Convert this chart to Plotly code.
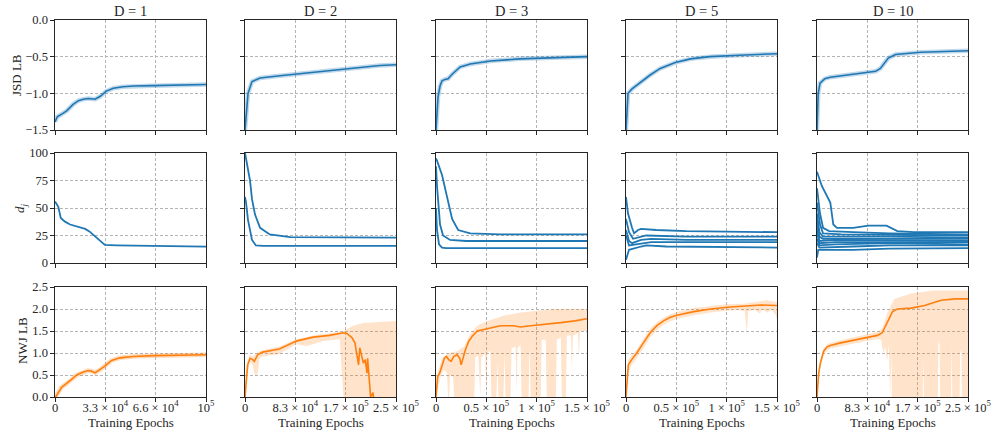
import numpy as np
import plotly.graph_objects as go

# ---------------------------------------------------------------------------
# Data (epochs are given in thousands)
# ---------------------------------------------------------------------------
dims = ["1", "2", "3", "5", "10"]
epoch_max_k = [100, 250, 150, 150, 250]

xtick_vals_k = [
    [0, 100 / 3, 200 / 3, 100],
    [0, 250 / 3, 500 / 3, 250],
    [0, 50, 100, 150],
    [0, 50, 100, 150],
    [0, 250 / 3, 500 / 3, 250],
]
xtick_text = [
    ["0", "3.3 × 10<sup>4</sup>", "6.6 × 10<sup>4</sup>", "10<sup>5</sup>"],
    ["0", "8.3 × 10<sup>4</sup>", "1.7 × 10<sup>5</sup>", "2.5 × 10<sup>5</sup>"],
    ["0", "0.5 × 10<sup>5</sup>", "1 × 10<sup>5</sup>", "1.5 × 10<sup>5</sup>"],
    ["0", "0.5 × 10<sup>5</sup>", "1 × 10<sup>5</sup>", "1.5 × 10<sup>5</sup>"],
    ["0", "8.3 × 10<sup>4</sup>", "1.7 × 10<sup>5</sup>", "2.5 × 10<sup>5</sup>"],
]

jsd_yticks = [-1.5, -1.0, -0.5, 0.0]
jsd_yticktext = ["−1.5", "−1.0", "−0.5", "0.0"]
dj_yticks = [0, 25, 50, 75, 100]
nwj_yticks = [0.0, 0.5, 1.0, 1.5, 2.0, 2.5]

# JSD lower bound
jsd_d1_k = [0, 1.5, 5.5, 7.7, 12, 15.5, 18.8, 22, 26.5, 30, 34, 38.6, 45, 52, 65, 80, 100]
jsd_d1 = [-1.39, -1.32, -1.27, -1.24, -1.15, -1.10, -1.08, -1.07, -1.08, -1.04, -0.97,
          -0.93, -0.91, -0.90, -0.895, -0.89, -0.88]
jsd_d2_k = [0, 1.7, 5, 11.6, 25, 58, 91, 124, 157, 190, 223, 250]
jsd_d2 = [-1.5, -1.3, -1.0, -0.84, -0.79, -0.76, -0.73, -0.70, -0.67, -0.64, -0.62, -0.61]
jsd_d3_k = [0, 2, 4, 6, 9, 12, 16, 19, 24, 34, 54, 83, 113, 150]
jsd_d3 = [-1.5, -1.05, -0.9, -0.83, -0.81, -0.80, -0.74, -0.70, -0.64, -0.60, -0.56,
          -0.53, -0.52, -0.50]
jsd_d5_k = [0, 1, 2, 6, 14, 24, 34, 49, 64, 83, 113, 150]
jsd_d5 = [-1.5, -1.1, -1.0, -0.94, -0.85, -0.75, -0.66, -0.58, -0.53, -0.50, -0.48, -0.46]
jsd_d10_k = [0, 2, 5, 13, 22, 50, 72, 97, 105, 112, 118, 130, 172, 250]
jsd_d10 = [-1.5, -1.0, -0.86, -0.80, -0.78, -0.75, -0.73, -0.70, -0.66, -0.58, -0.52,
           -0.47, -0.44, -0.42]

# Per-dimension sizes d_j
dj_d1_k = [0, 0.5, 2.2, 3.8, 6.6, 10, 14.4, 20, 23, 26.5, 30, 33, 41, 63, 100]
dj_d1 = [56, 55, 51, 41, 37.6, 35, 33, 31, 28.5, 24, 19.5, 16.4, 16, 15.5, 14.8]

dj_d2_a_k = [0, 1.7, 5, 8.3, 11.6, 16.6, 25, 41, 75, 150, 250]
dj_d2_a = [100, 95, 85, 75, 58, 44, 32, 26, 23.5, 23, 23]
dj_d2_b_k = [0, 1.7, 5, 11.6, 18, 30, 100, 250]
dj_d2_b = [60, 55, 39, 21, 16, 15.5, 15.5, 15.5]

dj_d3_a_k = [0, 1, 6, 11, 16, 22, 34, 64, 150]
dj_d3_a = [95, 93, 80, 60, 40, 30, 27, 26, 26]
dj_d3_b_k = [0, 1, 4, 7, 14, 30, 150]
dj_d3_b = [88, 70, 35, 25, 21, 20, 20]
dj_d3_c_k = [0, 1, 3, 6, 10, 30, 150]
dj_d3_c = [50, 30, 17, 14, 13.5, 13.5, 13.5]

dj_d5_1_k = [0, 2, 6, 8, 12, 15, 30, 60, 150]
dj_d5_1 = [60, 45, 32, 27, 30, 31, 30, 29, 28]
dj_d5_2_k = [0, 3, 7, 15, 20, 60, 150]
dj_d5_2 = [40, 28, 22, 24, 25, 24, 24]
dj_d5_3_k = [0, 3, 6, 15, 25, 60, 150]
dj_d5_3 = [30, 20, 18, 21, 22, 21, 21]
dj_d5_4_k = [0, 3, 10, 25, 150]
dj_d5_4 = [25, 16, 17, 19, 19]
dj_d5_5_k = [0, 3, 15, 20, 40, 150]
dj_d5_5 = [3, 12, 15, 16, 15, 14]

dj_d10_1_k = [0, 8, 22, 27, 33, 60, 85, 115, 133, 160, 250]
dj_d10_1 = [83, 70, 55, 35, 32, 32, 34, 34, 29, 28, 28]
dj_d10_2_k = [0, 5, 10, 20, 60, 120, 250]
dj_d10_2 = [68, 45, 32, 29, 28, 27, 26]
dj_d10_3_k = [0, 5, 10, 40, 250]
dj_d10_3 = [55, 35, 27, 26, 25]
dj_d10_4_k = [0, 4, 10, 120, 250]
dj_d10_4 = [45, 28, 24, 24, 23]
dj_d10_5_k = [0, 4, 10, 250]
dj_d10_5 = [38, 24, 22, 22]
dj_d10_6_k = [0, 4, 30, 250]
dj_d10_6 = [32, 20, 21, 20]
dj_d10_7_k = [0, 4, 30, 250]
dj_d10_7 = [28, 18, 19, 19]
dj_d10_8_k = [0, 4, 30, 120, 250]
dj_d10_8 = [22, 16, 17, 18, 17]
dj_d10_9_k = [0, 4, 60, 120, 250]
dj_d10_9 = [18, 14, 15, 16, 16]
dj_d10_10_k = [0, 2, 60, 120, 250]
dj_d10_10 = [5, 12, 12, 13, 13.5]

# NWJ lower bound: mean curve plus the spread band (upper / lower edge)
nwj_d1_k = [0, 0.4, 4.4, 7.7, 11, 14.4, 18.8, 22, 24, 26.5, 29.8, 33, 37.5, 43, 51.7, 65, 100]
nwj_d1 = [0.0, 0.0, 0.22, 0.30, 0.40, 0.50, 0.57, 0.60, 0.59, 0.55, 0.62, 0.70, 0.83,
          0.89, 0.92, 0.94, 0.96]

nwj_d2_k = [0, 4.4, 8.3, 12.7, 15.5, 21, 29, 57, 85, 113, 140, 163, 168, 177, 182, 185,
            188, 190, 193, 196, 199, 202, 203, 206, 208, 212, 215]
nwj_d2 = [0.0, 0.73, 0.88, 0.85, 0.81, 0.96, 1.02, 1.09, 1.27, 1.36, 1.40, 1.46, 1.45,
          1.35, 1.23, 0.92, 0.73, 1.12, 0.92, 0.77, 0.85, 0.54, 0.88, 0.42, 0.0, 0.10, -0.3]
nwj_d2_up_k = [0, 1, 4, 8, 12.7, 21, 29, 57, 85, 113, 140, 163, 168, 179, 196, 224, 250]
nwj_d2_up = [0.05, 0.5, 0.8, 0.96, 0.92, 1.02, 1.06, 1.15, 1.32, 1.40, 1.45, 1.50, 1.54,
             1.62, 1.68, 1.71, 1.73]
nwj_d2_lo_k = [0, 4, 8, 12.7, 17, 21, 24, 29, 57, 85, 102, 130, 157, 160, 163, 250]
nwj_d2_lo = [0, 0.54, 0.8, 0.73, 0.46, 0.54, 0.88, 0.92, 0.98, 1.2, 1.16, 1.27, 1.31,
             0.6, 0, 0]

nwj_d3_k = [0, 1.6, 3.6, 6, 8.3, 10.3, 12.6, 15, 17.6, 21, 23.6, 25, 27, 29.3, 32.6, 36,
            41, 51, 64, 77, 84, 94, 111, 124, 138, 150]
nwj_d3 = [0, 0.46, 0.54, 0.73, 0.88, 0.92, 0.85, 0.81, 0.92, 0.96, 0.88, 0.73, 0.92,
          1.08, 1.27, 1.38, 1.50, 1.55, 1.62, 1.62, 1.59, 1.62, 1.65, 1.69, 1.73, 1.78]
nwj_d3_up_k = [0, 1.6, 6, 12.6, 21, 28, 32.6, 41, 51, 68, 84, 100, 117, 150]
nwj_d3_up = [0.05, 0.54, 0.88, 1.0, 1.04, 1.15, 1.38, 1.62, 1.73, 1.85, 1.92, 1.96, 2.0, 2.0]
nwj_d3_lo_k = [0, 2, 5, 8, 11, 12, 13, 14, 17, 18, 38, 39, 42, 44, 45, 49, 50, 51, 54, 55,
               60, 61, 62, 67, 68, 69, 74, 75, 79, 80, 81, 84, 85, 92, 93, 94, 104, 105,
               109, 110, 119, 120, 124, 125, 129, 130, 134, 135, 136, 141, 142, 143, 150]
nwj_d3_lo = [0, 0.2, 0.5, 0.62, 0.55, 0.0, 0.0, 0.5, 0.45, 0.0, 0.0, 0.9, 0.95, 0.0, 0.9,
             1.0, 0.0, 1.0, 1.05, 0.0, 0.0, 0.8, 0.0, 0.0, 1.0, 0.0, 0.0, 1.1, 1.15, 0.1,
             1.1, 1.2, 0.0, 0.0, 1.2, 0.0, 0.0, 1.3, 1.3, 0.0, 0.0, 1.3, 1.35, 0.0, 0.0,
             1.4, 1.4, 0.6, 1.4, 1.45, 0.9, 1.5, 1.5]

nwj_d5_k = [0, 1.3, 2.3, 5.7, 10.7, 17.3, 24, 30.7, 37.3, 44, 50.7, 67.3, 84, 100.7,
            117.3, 134, 150]
nwj_d5 = [0, 0.54, 0.73, 0.85, 1.0, 1.23, 1.46, 1.62, 1.73, 1.81, 1.86, 1.94, 2.0, 2.04,
          2.06, 2.09, 2.08]
nwj_d5_up_k = [0, 1.3, 2.3, 5.7, 10.7, 17.3, 24, 30.7, 37.3, 44, 50.7, 67.3, 84, 100, 117,
               134, 140, 150]
nwj_d5_up = [0.05, 0.7, 0.85, 0.95, 1.08, 1.32, 1.55, 1.7, 1.8, 1.88, 1.93, 2.02, 2.07,
             2.11, 2.12, 2.17, 2.2, 2.16]
nwj_d5_lo_k = [0, 1.3, 2.3, 5.7, 10.7, 17.3, 24, 30.7, 37.3, 44, 50.7, 67.3, 84, 100, 112,
               118, 120, 121.5, 128, 133, 135, 140, 145, 149, 150]
nwj_d5_lo = [0, 0.3, 0.55, 0.72, 0.88, 1.1, 1.35, 1.52, 1.64, 1.72, 1.78, 1.86, 1.92,
             1.96, 1.98, 1.95, 1.45, 1.95, 1.98, 1.9, 2.0, 1.92, 1.98, 1.85, 1.75]

nwj_d10_k = [0, 2.8, 5.6, 11, 16.7, 22, 38.9, 55.6, 83, 100, 108, 116.7, 125, 133, 155.6,
             178, 205.6, 228, 250]
nwj_d10 = [0, 0.54, 0.77, 1.04, 1.14, 1.17, 1.23, 1.28, 1.35, 1.40, 1.46, 1.69, 1.94,
           2.0, 2.02, 2.08, 2.2, 2.23, 2.23]
nwj_d10_up_k = [0, 2.8, 5.6, 11, 16.7, 22, 38.9, 55.6, 83, 100, 108, 116.7, 128, 155.6,
                194, 250]
nwj_d10_up = [0.05, 0.65, 0.85, 1.1, 1.2, 1.23, 1.29, 1.34, 1.42, 1.48, 1.56, 1.92, 2.23,
              2.35, 2.42, 2.42]
nwj_d10_lo_k = [0, 2.8, 5.6, 11, 16.7, 22, 38.9, 55.6, 83, 100, 106, 110, 113, 116, 119,
                121, 122, 123, 124, 175, 176, 177, 200, 201, 203, 204, 222, 223, 224, 236,
                237, 239, 240, 250]
nwj_d10_lo = [0, 0.4, 0.68, 0.96, 1.06, 1.1, 1.16, 1.2, 1.28, 1.32, 1.3, 1.0, 1.15, 0.8,
              1.2, 0.0, 0.0, 1.0, 0.0, 0.0, 0.9, 0.0, 0.0, 1.3, 1.2, 0.0, 0.0, 1.2, 0.0,
              0.0, 1.0, 1.1, 0.0, 0.0]

jsd_series = [(jsd_d1_k, jsd_d1), (jsd_d2_k, jsd_d2), (jsd_d3_k, jsd_d3),
              (jsd_d5_k, jsd_d5), (jsd_d10_k, jsd_d10)]
dj_series = [
    [(dj_d1_k, dj_d1)],
    [(dj_d2_a_k, dj_d2_a), (dj_d2_b_k, dj_d2_b)],
    [(dj_d3_a_k, dj_d3_a), (dj_d3_b_k, dj_d3_b), (dj_d3_c_k, dj_d3_c)],
    [(dj_d5_1_k, dj_d5_1), (dj_d5_2_k, dj_d5_2), (dj_d5_3_k, dj_d5_3),
     (dj_d5_4_k, dj_d5_4), (dj_d5_5_k, dj_d5_5)],
    [(dj_d10_1_k, dj_d10_1), (dj_d10_2_k, dj_d10_2), (dj_d10_3_k, dj_d10_3),
     (dj_d10_4_k, dj_d10_4), (dj_d10_5_k, dj_d10_5), (dj_d10_6_k, dj_d10_6),
     (dj_d10_7_k, dj_d10_7), (dj_d10_8_k, dj_d10_8), (dj_d10_9_k, dj_d10_9),
     (dj_d10_10_k, dj_d10_10)],
]
nwj_series = [(nwj_d1_k, nwj_d1), (nwj_d2_k, nwj_d2), (nwj_d3_k, nwj_d3),
              (nwj_d5_k, nwj_d5), (nwj_d10_k, nwj_d10)]
nwj_bands = [None,
             (nwj_d2_up_k, nwj_d2_up, nwj_d2_lo_k, nwj_d2_lo),
             (nwj_d3_up_k, nwj_d3_up, nwj_d3_lo_k, nwj_d3_lo),
             (nwj_d5_up_k, nwj_d5_up, nwj_d5_lo_k, nwj_d5_lo),
             (nwj_d10_up_k, nwj_d10_up, nwj_d10_lo_k, nwj_d10_lo)]

# ---------------------------------------------------------------------------
# Styling / layout
# ---------------------------------------------------------------------------
W, H = 992, 432
FONT = "Liberation Serif"
BLUE = "#1f77b4"
ORANGE = "#ff7f0e"
BLUE_HALO = "rgba(31,119,180,0.28)"
ORANGE_HALO = "rgba(255,127,14,0.28)"
ORANGE_BAND = "rgba(255,127,14,0.22)"
INK = "#262626"

col_left = [55, 245, 436, 626, 817]
col_width = 151
row_top = [20, 153, 287]
row_height = 110

row_ranges = [[-1.5, 0.0], [0, 100], [0, 2.5]]


def ep(k):
    return np.asarray(k, dtype=float) * 1000.0


fig = go.Figure()


def axis_id(r, c):
    n = r * 5 + c + 1
    return ("x" if n == 1 else f"x{n}"), ("y" if n == 1 else f"y{n}")


for c in range(5):
    # Row 1: JSD lower bound
    xa, ya = axis_id(0, c)
    xk, yv = jsd_series[c]
    fig.add_trace(go.Scatter(x=ep(xk), y=yv, mode="lines", xaxis=xa, yaxis=ya,
                             line=dict(color=BLUE_HALO, width=4.5), hoverinfo="skip"))
    fig.add_trace(go.Scatter(x=ep(xk), y=yv, mode="lines", xaxis=xa, yaxis=ya,
                             line=dict(color=BLUE, width=1.6)))

    # Row 2: d_j
    xa, ya = axis_id(1, c)
    for xk, yv in dj_series[c]:
        fig.add_trace(go.Scatter(x=ep(xk), y=yv, mode="lines", xaxis=xa, yaxis=ya,
                                 line=dict(color=BLUE, width=1.8)))

    # Row 3: NWJ lower bound
    xa, ya = axis_id(2, c)
    band = nwj_bands[c]
    xk, yv = nwj_series[c]
    if band is None:
        fig.add_trace(go.Scatter(x=ep(xk), y=yv, mode="lines", xaxis=xa, yaxis=ya,
                                 line=dict(color=ORANGE_HALO, width=4.5), hoverinfo="skip"))
    else:
        uk, uv, lk, lv = band
        px = np.concatenate([ep(uk), ep(lk)[::-1]])
        py = np.concatenate([np.asarray(uv, float), np.asarray(lv, float)[::-1]])
        fig.add_trace(go.Scatter(x=px, y=py, mode="lines", fill="toself",
                                 fillcolor=ORANGE_BAND, line=dict(width=0),
                                 xaxis=xa, yaxis=ya, hoverinfo="skip"))
    fig.add_trace(go.Scatter(x=ep(xk), y=yv, mode="lines", xaxis=xa, yaxis=ya,
                             line=dict(color=ORANGE, width=1.6)))

layout = dict(
    width=W, height=H,
    margin=dict(l=0, r=0, t=0, b=0, autoexpand=False),
    paper_bgcolor="white", plot_bgcolor="white",
    showlegend=False,
    font=dict(family=FONT, size=12, color=INK),
)

common = dict(showline=True, mirror=True, linecolor=INK, linewidth=1.1,
              ticks="outside", ticklen=3.5, tickwidth=0.9, tickcolor=INK,
              showgrid=True, gridcolor="#b4b4b4", gridwidth=0.8, griddash="3px,2px",
              zeroline=False, automargin=False,
              tickfont=dict(family=FONT, size=12.5, color=INK))

for r in range(3):
    for c in range(5):
        n = r * 5 + c + 1
        xa, ya = axis_id(r, c)
        xkey = "xaxis" if n == 1 else f"xaxis{n}"
        ykey = "yaxis" if n == 1 else f"yaxis{n}"
        x0 = col_left[c] / W
        x1 = (col_left[c] + col_width) / W
        y1 = 1 - row_top[r] / H
        y0 = 1 - (row_top[r] + row_height) / H
        layout[xkey] = dict(common, domain=[x0, x1], anchor=ya,
                            range=[0, epoch_max_k[c] * 1000.0],
                            tickmode="array", tickvals=list(ep(xtick_vals_k[c])),
                            ticktext=xtick_text[c], tickangle=0,
                            ticklabelstandoff=-5,
                            showticklabels=(r == 2))
        if r == 0:
            yt = dict(tickvals=jsd_yticks, ticktext=jsd_yticktext)
        elif r == 1:
            yt = dict(tickvals=dj_yticks, ticktext=[str(v) for v in dj_yticks])
        else:
            yt = dict(tickvals=nwj_yticks, ticktext=[f"{v:.1f}" for v in nwj_yticks])
        layout[ykey] = dict(common, domain=[y0, y1], anchor=xa, range=row_ranges[r],
                            tickmode="array", showticklabels=(c == 0), **yt)

annotations = []
for c in range(5):
    cx = (col_left[c] + col_width / 2) / W
    annotations.append(dict(text=f"D = {dims[c]}", x=cx, y=1 - 11 / H, xref="paper",
                            yref="paper", showarrow=False, xanchor="center",
                            yanchor="middle", font=dict(family=FONT, size=14.5, color=INK)))
    annotations.append(dict(text="Training Epochs", x=cx, y=1 - 422 / H, xref="paper",
                            yref="paper", showarrow=False, xanchor="center",
                            yanchor="middle", font=dict(family=FONT, size=13, color=INK)))

ylabels = [("JSD LB", 16, 75), ("<i>d<sub>j</sub></i>", 21, 208), ("NWJ LB", 22, 341)]
for txt, px_, py_ in ylabels:
    annotations.append(dict(text=txt, x=px_ / W, y=1 - py_ / H, xref="paper", yref="paper",
                            showarrow=False, textangle=-90, xanchor="center",
                            yanchor="middle", font=dict(family=FONT, size=13, color=INK)))

layout["annotations"] = annotations
fig.update_layout(**layout)
fig.write_html("out.html")
